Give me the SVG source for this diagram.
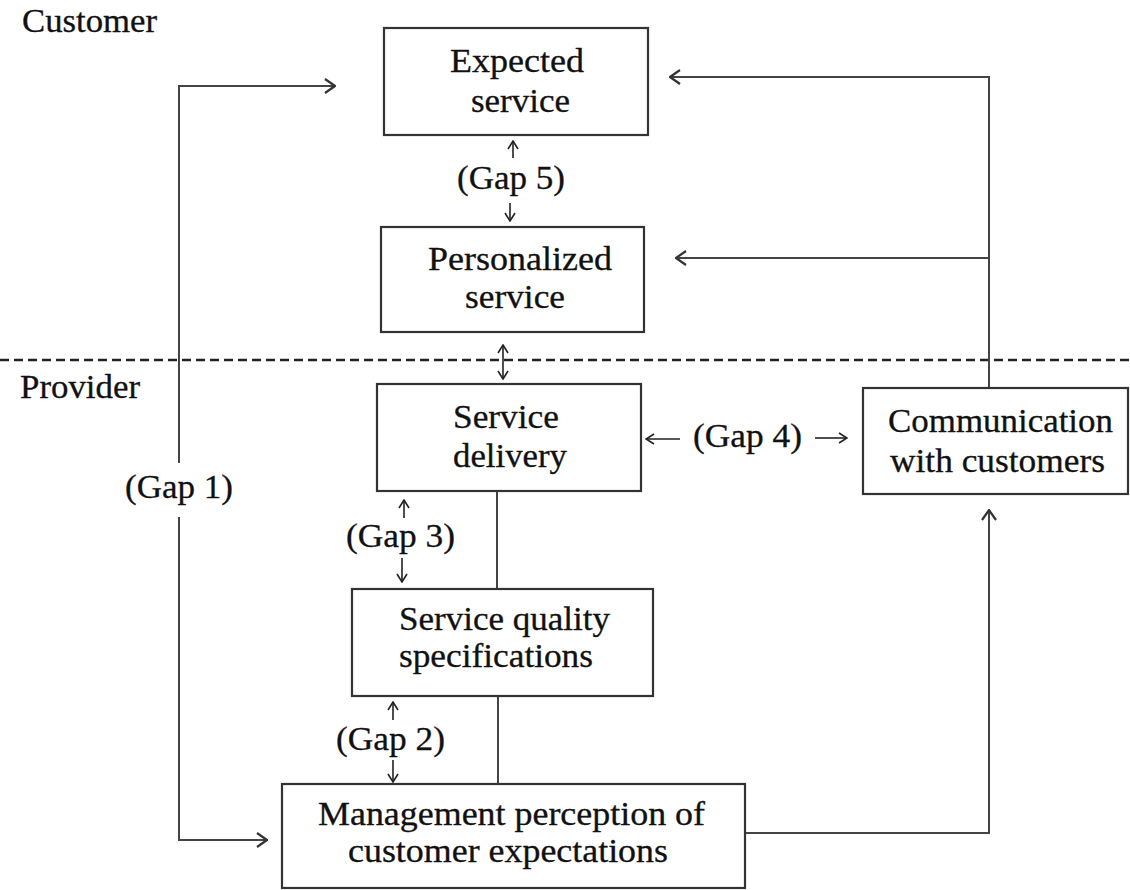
<svg xmlns="http://www.w3.org/2000/svg" width="1130" height="890" viewBox="0 0 1130 890">
<style>
text{font-family:"Liberation Serif","Times New Roman",serif;font-size:33px;fill:#111;stroke:#111;stroke-width:0.3;}
.box{fill:#fff;stroke:#333;stroke-width:2.2;}
.ln{fill:none;stroke:#444;stroke-width:2;}
.sm{fill:none;stroke:#222;stroke-width:1.6;}
.dash{fill:none;stroke:#222;stroke-width:2.5;stroke-dasharray:9 5;}
</style>
<defs>
<marker id="big" markerUnits="userSpaceOnUse" viewBox="0 0 12 16" refX="11" refY="8" markerWidth="12" markerHeight="16" orient="auto">
<path d="M1,1 L11,8 L1,15" fill="none" stroke="#333" stroke-width="2.2"/>
</marker>
<marker id="small" markerUnits="userSpaceOnUse" viewBox="0 0 10 12" refX="9" refY="6" markerWidth="10" markerHeight="12" orient="auto">
<path d="M1,1 L9,6 L1,11" fill="none" stroke="#222" stroke-width="1.6"/>
</marker>
</defs>
<rect width="1130" height="890" fill="#fff"/>

<g id="zone-labels">
<text x="22" y="32" textLength="135" lengthAdjust="spacingAndGlyphs">Customer</text>
<text x="20" y="398" textLength="120" lengthAdjust="spacingAndGlyphs">Provider</text>
</g>

<g id="connectors">
<line class="dash" x1="0" y1="360" x2="1130" y2="360"/>
<polyline class="ln" points="179,463 179,86 335,86" marker-end="url(#big)"/>
<polyline class="ln" points="179,517 179,840 267,840" marker-end="url(#big)"/>
<polyline class="ln" points="989,388 989,77 670,77" marker-end="url(#big)"/>
<line class="ln" x1="989" y1="258" x2="676" y2="258" marker-end="url(#big)"/>
<polyline class="ln" points="745,833 989,833 989,510" marker-end="url(#big)"/>
<line class="ln" x1="497" y1="491" x2="497" y2="589"/>
<line class="ln" x1="498" y1="696" x2="498" y2="784"/>
<line class="sm" x1="513" y1="158" x2="513" y2="141" marker-end="url(#small)"/>
<line class="sm" x1="510" y1="203" x2="510" y2="221" marker-end="url(#small)"/>
<line class="sm" x1="503" y1="362" x2="503" y2="345" marker-end="url(#small)"/>
<line class="sm" x1="503" y1="362" x2="503" y2="379" marker-end="url(#small)"/>
<line class="sm" x1="680" y1="439" x2="646" y2="439" marker-end="url(#small)"/>
<line class="sm" x1="815" y1="438" x2="847" y2="438" marker-end="url(#small)"/>
<line class="sm" x1="404" y1="518" x2="404" y2="500" marker-end="url(#small)"/>
<line class="sm" x1="402" y1="558" x2="402" y2="582" marker-end="url(#small)"/>
<line class="sm" x1="393" y1="720" x2="393" y2="702" marker-end="url(#small)"/>
<line class="sm" x1="393" y1="760" x2="393" y2="782" marker-end="url(#small)"/>
</g>

<g id="gap-labels">
<text x="457" y="189" textLength="108" lengthAdjust="spacingAndGlyphs">(Gap 5)</text>
<text x="693" y="447" textLength="109" lengthAdjust="spacingAndGlyphs">(Gap 4)</text>
<text x="346" y="547" textLength="109" lengthAdjust="spacingAndGlyphs">(Gap 3)</text>
<text x="336" y="750" textLength="109" lengthAdjust="spacingAndGlyphs">(Gap 2)</text>
<text x="125" y="498" textLength="108" lengthAdjust="spacingAndGlyphs">(Gap 1)</text>
</g>

<g id="expected-service">
<rect class="box" x="384" y="28" width="264" height="107"/>
<text x="450" y="72" textLength="134" lengthAdjust="spacingAndGlyphs">Expected</text>
<text x="471" y="112" textLength="99" lengthAdjust="spacingAndGlyphs">service</text>
</g>

<g id="personalized-service">
<rect class="box" x="381" y="227" width="263" height="105"/>
<text x="428" y="270" textLength="184" lengthAdjust="spacingAndGlyphs">Personalized</text>
<text x="465" y="308" textLength="100" lengthAdjust="spacingAndGlyphs">service</text>
</g>

<g id="service-delivery">
<rect class="box" x="377" y="384" width="264" height="107"/>
<text x="453" y="428" textLength="106" lengthAdjust="spacingAndGlyphs">Service</text>
<text x="453" y="467" textLength="114" lengthAdjust="spacingAndGlyphs">delivery</text>
</g>

<g id="communication">
<rect class="box" x="863" y="388" width="265" height="106"/>
<text x="888" y="432" textLength="225" lengthAdjust="spacingAndGlyphs">Communication</text>
<text x="890" y="472" textLength="215" lengthAdjust="spacingAndGlyphs">with customers</text>
</g>

<g id="service-quality-specs">
<rect class="box" x="352" y="589" width="301" height="107"/>
<text x="399" y="630" textLength="211" lengthAdjust="spacingAndGlyphs">Service quality</text>
<text x="399" y="667" textLength="194" lengthAdjust="spacingAndGlyphs">specifications</text>
</g>

<g id="management-perception">
<rect class="box" x="282" y="784" width="463" height="104"/>
<text x="318" y="825" textLength="387" lengthAdjust="spacingAndGlyphs">Management perception of</text>
<text x="348" y="862" textLength="320" lengthAdjust="spacingAndGlyphs">customer expectations</text>
</g>
</svg>
